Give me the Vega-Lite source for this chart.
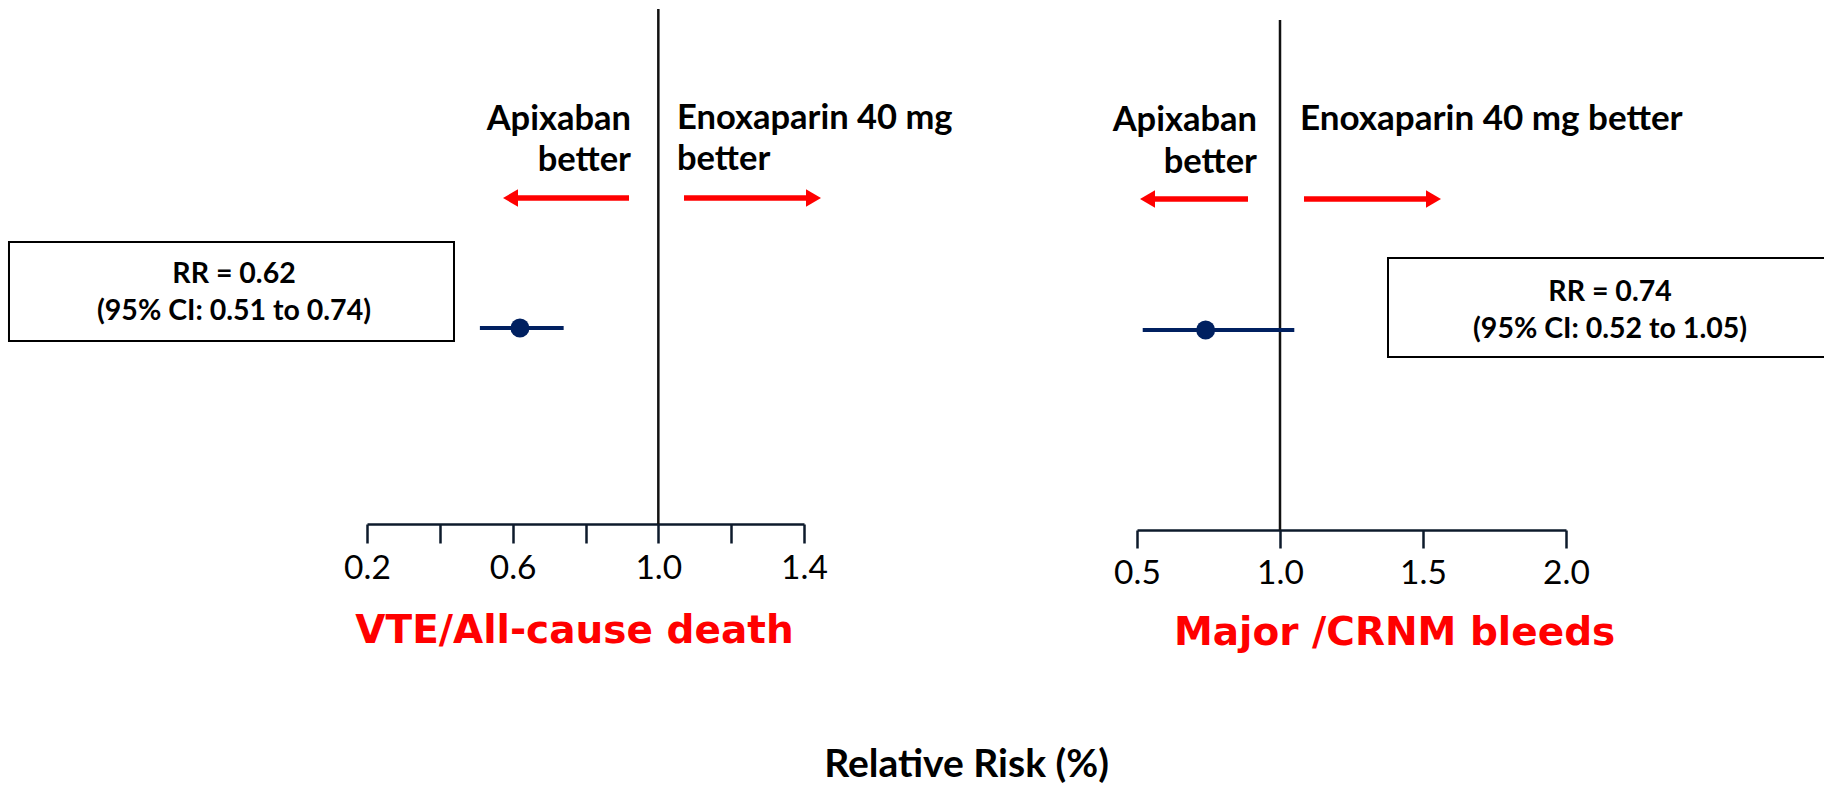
{
  "$schema": "https://vega.github.io/schema/vega-lite/v6.json",
  "background": "white",
  "padding": {"left": 7, "top": 7, "right": 0, "bottom": 0},
  "bounds": "flush",
  "spacing": 333,
  "config": {"view": {"stroke": null}},
  "hconcat": [
    {
      "width": 437,
      "height": 515,
      "data": {"values": [{"outcome": "VTE/All-cause death", "rr": 0.62, "lo": 0.51, "hi": 0.74, "ref": 1.0, "box": ["RR = 0.62", "(95% CI: 0.51 to 0.74)"]}]},
      "layer": [
        {
          "mark": {"type": "rule", "color": "#111111", "strokeWidth": 2.5},
          "encoding": {
            "x": {"field": "ref", "type": "quantitative", "scale": {"domain": [0.2, 1.4], "nice": false, "zero": false},
              "axis": {"title": null, "values": [0.2, 0.4, 0.6, 0.8, 1.0, 1.2, 1.4], "labelExpr": "round(datum.value*10) % 4 == 2 ? format(datum.value, '.1f') : ''", "tickSize": 19, "tickWidth": 2.5, "domainWidth": 2.5, "domainColor": "#0d1a2b", "tickColor": "#0d1a2b", "labelFont": "Lato", "labelFontSize": 33.5, "labelColor": "#000000", "labelPadding": 9, "grid": false, "labelFlush": false, "labelOverlap": false, "labelBound": false}},
            "y": {"datum": 0, "type": "quantitative", "scale": {"domain": [0, 100], "nice": false, "zero": false}, "axis": null},
            "y2": {"datum": 100}
          }
        },
        {
          "mark": {"type": "rect", "fill": "white", "stroke": "#000000", "strokeWidth": 2},
          "encoding": {"x": {"datum": -0.7831, "type": "quantitative"}, "x2": {"datum": 0.4389}, "y": {"datum": 54.76, "type": "quantitative"}, "y2": {"datum": 35.53}}
        },
        {
          "mark": {"type": "text", "font": "Lato", "fontWeight": "bold", "fontSize": 28.5, "lineHeight": 37, "align": "center", "baseline": "alphabetic", "color": "#000000"},
          "encoding": {"text": {"field": "box"}, "x": {"datum": -0.1652, "type": "quantitative"}, "y": {"datum": 46.8, "type": "quantitative"}}
        },
        {
          "mark": {"type": "rule", "color": "#002060", "strokeWidth": 4},
          "encoding": {"x": {"field": "lo", "type": "quantitative"}, "x2": {"field": "hi"}, "y": {"datum": 38.06, "type": "quantitative"}}
        },
        {
          "mark": {"type": "point", "filled": true, "color": "#002060", "opacity": 1, "size": 360},
          "encoding": {"x": {"field": "rr", "type": "quantitative"}, "y": {"datum": 38.06, "type": "quantitative"}}
        },
        {
          "mark": {"type": "rule", "color": "#ff0000", "strokeWidth": 5.5},
          "encoding": {"x": {"datum": 0.9195, "type": "quantitative"}, "x2": {"datum": 0.6064}, "y": {"datum": 63.3, "type": "quantitative"}}
        },
        {
          "mark": {"type": "point", "shape": "triangle-left", "filled": true, "color": "#ff0000", "opacity": 1, "size": 300},
          "encoding": {"x": {"datum": 0.594, "type": "quantitative"}, "y": {"datum": 63.3, "type": "quantitative"}}
        },
        {
          "mark": {"type": "rule", "color": "#ff0000", "strokeWidth": 5.5},
          "encoding": {"x": {"datum": 1.0705, "type": "quantitative"}, "x2": {"datum": 1.4137}, "y": {"datum": 63.3, "type": "quantitative"}}
        },
        {
          "mark": {"type": "point", "shape": "triangle-right", "filled": true, "color": "#ff0000", "opacity": 1, "size": 300},
          "encoding": {"x": {"datum": 1.4261, "type": "quantitative"}, "y": {"datum": 63.3, "type": "quantitative"}}
        },
        {
          "mark": {"type": "text", "font": "Lato", "fontWeight": "bold", "fontSize": 34.5, "lineHeight": 41, "align": "right", "baseline": "alphabetic", "color": "#000000"},
          "encoding": {"text": {"value": ["Apixaban", "better"]}, "x": {"datum": 0.9249, "type": "quantitative"}, "y": {"datum": 76.5, "type": "quantitative"}}
        },
        {
          "mark": {"type": "text", "font": "Lato", "fontWeight": "bold", "fontSize": 34.5, "lineHeight": 41, "align": "left", "baseline": "alphabetic", "color": "#000000"},
          "encoding": {"text": {"value": ["Enoxaparin 40 mg", "better"]}, "x": {"datum": 1.0513, "type": "quantitative"}, "y": {"datum": 76.7, "type": "quantitative"}}
        },
        {
          "mark": {"type": "text", "font": "DejaVu Sans", "fontWeight": "bold", "fontSize": 39, "align": "center", "baseline": "alphabetic", "color": "#ff0000"},
          "encoding": {"text": {"field": "outcome"}, "x": {"datum": 0.7698, "type": "quantitative"}, "y": {"datum": -23.1, "type": "quantitative"}}
        },
        {
          "mark": {"type": "text", "font": "Lato", "fontWeight": "bold", "fontSize": 39, "align": "center", "baseline": "alphabetic", "color": "#000000"},
          "encoding": {"text": {"value": "Relative Risk (%)"}, "x": {"datum": 1.8462, "type": "quantitative"}, "y": {"datum": -49.1, "type": "quantitative"}}
        }
      ]
    },
    {
      "width": 429,
      "height": 521,
      "data": {"values": [{"outcome": "Major /CRNM bleeds", "rr": 0.74, "lo": 0.52, "hi": 1.05, "ref": 1.0, "box": ["RR = 0.74", "(95% CI: 0.52 to 1.05)"]}]},
      "layer": [
        {
          "mark": {"type": "rule", "color": "#111111", "strokeWidth": 2.5},
          "encoding": {
            "x": {"field": "ref", "type": "quantitative", "scale": {"domain": [0.5, 2.0], "nice": false, "zero": false},
              "axis": {"title": null, "values": [0.5, 1.0, 1.5, 2.0], "format": ".1f", "tickSize": 18, "tickWidth": 2.5, "domainWidth": 2.5, "domainColor": "#0d1a2b", "tickColor": "#0d1a2b", "labelFont": "Lato", "labelFontSize": 33.5, "labelColor": "#000000", "labelPadding": 9, "grid": false, "labelFlush": false, "labelOverlap": false, "labelBound": false}},
            "y": {"datum": 0, "type": "quantitative", "scale": {"domain": [0, 100], "nice": false, "zero": false}, "axis": null},
            "y2": {"datum": 97.9}
          }
        },
        {
          "mark": {"type": "rule", "color": "#000000", "strokeWidth": 2, "strokeCap": "square"},
          "encoding": {"x": {"datum": 1.3776, "type": "quantitative"}, "x2": {"datum": 2.902}, "y": {"datum": 52.21, "type": "quantitative"}}
        },
        {
          "mark": {"type": "rule", "color": "#000000", "strokeWidth": 2, "strokeCap": "square"},
          "encoding": {"x": {"datum": 1.3776, "type": "quantitative"}, "x2": {"datum": 2.902}, "y": {"datum": 33.21, "type": "quantitative"}}
        },
        {
          "mark": {"type": "rule", "color": "#000000", "strokeWidth": 2, "strokeCap": "square"},
          "encoding": {"x": {"datum": 1.3776, "type": "quantitative"}, "y": {"datum": 33.21, "type": "quantitative"}, "y2": {"datum": 52.21}}
        },
        {
          "mark": {"type": "text", "font": "Lato", "fontWeight": "bold", "fontSize": 28.5, "lineHeight": 37, "align": "center", "baseline": "alphabetic", "color": "#000000"},
          "encoding": {"text": {"field": "box"}, "x": {"datum": 2.154, "type": "quantitative"}, "y": {"datum": 43.95, "type": "quantitative"}}
        },
        {
          "mark": {"type": "rule", "color": "#002060", "strokeWidth": 4},
          "encoding": {"x": {"field": "lo", "type": "quantitative"}, "x2": {"field": "hi"}, "y": {"datum": 38.39, "type": "quantitative"}}
        },
        {
          "mark": {"type": "point", "filled": true, "color": "#002060", "opacity": 1, "size": 360},
          "encoding": {"x": {"field": "rr", "type": "quantitative"}, "y": {"datum": 38.39, "type": "quantitative"}}
        },
        {
          "mark": {"type": "rule", "color": "#ff0000", "strokeWidth": 5.5},
          "encoding": {"x": {"datum": 0.8881, "type": "quantitative"}, "x2": {"datum": 0.5524}, "y": {"datum": 63.53, "type": "quantitative"}}
        },
        {
          "mark": {"type": "point", "shape": "triangle-left", "filled": true, "color": "#ff0000", "opacity": 1, "size": 300},
          "encoding": {"x": {"datum": 0.5367, "type": "quantitative"}, "y": {"datum": 63.53, "type": "quantitative"}}
        },
        {
          "mark": {"type": "rule", "color": "#ff0000", "strokeWidth": 5.5},
          "encoding": {"x": {"datum": 1.0839, "type": "quantitative"}, "x2": {"datum": 1.521}, "y": {"datum": 63.53, "type": "quantitative"}}
        },
        {
          "mark": {"type": "point", "shape": "triangle-right", "filled": true, "color": "#ff0000", "opacity": 1, "size": 300},
          "encoding": {"x": {"datum": 1.5367, "type": "quantitative"}, "y": {"datum": 63.53, "type": "quantitative"}}
        },
        {
          "mark": {"type": "text", "font": "Lato", "fontWeight": "bold", "fontSize": 34.5, "lineHeight": 42, "align": "right", "baseline": "alphabetic", "color": "#000000"},
          "encoding": {"text": {"value": ["Apixaban", "better"]}, "x": {"datum": 0.9196, "type": "quantitative"}, "y": {"datum": 76.58, "type": "quantitative"}}
        },
        {
          "mark": {"type": "text", "font": "Lato", "fontWeight": "bold", "fontSize": 35, "align": "left", "baseline": "alphabetic", "color": "#000000"},
          "encoding": {"text": {"value": "Enoxaparin 40 mg better"}, "x": {"datum": 1.0699, "type": "quantitative"}, "y": {"datum": 76.78, "type": "quantitative"}}
        },
        {
          "mark": {"type": "text", "font": "DejaVu Sans", "fontWeight": "bold", "fontSize": 39, "align": "center", "baseline": "alphabetic", "color": "#ff0000"},
          "encoding": {"text": {"field": "outcome"}, "x": {"datum": 1.4007, "type": "quantitative"}, "y": {"datum": -22.07, "type": "quantitative"}}
        }
      ]
    }
  ]
}
